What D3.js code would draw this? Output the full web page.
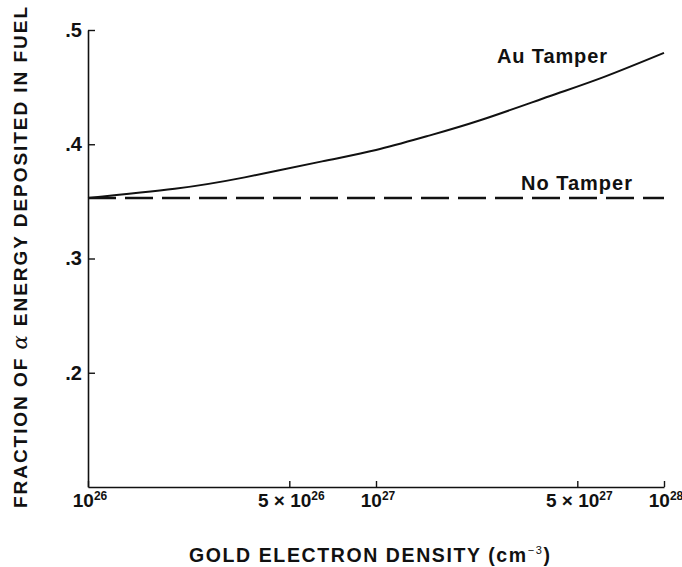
<!DOCTYPE html>
<html>
<head>
<meta charset="utf-8">
<script src="https://cdn.jsdelivr.net/npm/d3@7"></script>
<style>
  body { margin: 0; background: #fff; }
  text { font-family: "Liberation Sans", Arial, sans-serif; font-weight: bold; fill: #111; }
</style>
</head>
<body>
<svg id="chart"></svg>
<script>
// Chart data
const density = [1e26, 2e26, 3.5e26, 6.5e26, 1e27, 1.5e27, 2.3e27, 4e27, 6.2e27, 1e28];
const auTamper = [0.353, 0.361, 0.371, 0.385, 0.395, 0.407, 0.421, 0.442, 0.459, 0.480];
const noTamperDensity = [1e26, 1e28];
const noTamper = [0.353, 0.353];

const yTicks = [0.2, 0.3, 0.4, 0.5];
const yTickLabels = ['.2', '.3', '.4', '.5'];
const xTicks = [1e26, 5e26, 1e27, 5e27, 1e28];
const xTickLabels = [['', '10', '26'], ['5 \u00d7\u00a0', '10', '26'], ['', '10', '27'], ['5 \u00d7\u00a0', '10', '27'], ['', '10', '28']];

// Dimensions
const W = 682, H = 567;
const margin = {top: 30, right: 18, bottom: 80, left: 88};

const svg = d3.select('#chart')
  .attr('width', W)
  .attr('height', H);

// Scales
const x = d3.scaleLog()
  .domain([1e26, 1e28])
  .range([margin.left, W - margin.right]);
const y = d3.scaleLinear()
  .domain([0.1, 0.5])
  .range([H - margin.bottom, margin.top]);

// X axis (ticks pointing up into the plot)
const xAxis = d3.axisBottom(x)
  .tickValues(xTicks)
  .tickSizeInner(-6)
  .tickSizeOuter(0)
  .tickFormat('');
const gx = svg.append('g')
  .attr('transform', `translate(0, ${y(0.1)})`)
  .call(xAxis);
gx.select('.domain').attr('stroke', '#111').attr('stroke-width', 1.6);
gx.selectAll('.tick line').attr('stroke', '#111').attr('stroke-width', 1.4);

const xl = svg.append('g').selectAll('text')
  .data(xTicks)
  .enter().append('text')
  .attr('x', (d) => x(d) + 2)
  .attr('y', y(0.1) + 20)
  .attr('text-anchor', 'middle')
  .attr('font-size', 19);
xl.append('tspan').text((d, i) => xTickLabels[i][0]);
xl.append('tspan').text((d, i) => xTickLabels[i][1]);
xl.append('tspan').text((d, i) => xTickLabels[i][2])
  .attr('font-size', 12).attr('dy', -7);

// Y axis (ticks pointing right)
const yAxis = d3.axisLeft(y)
  .tickValues(yTicks)
  .tickSizeInner(-7)
  .tickSizeOuter(0)
  .tickFormat((d, i) => yTickLabels[i]);
const gy = svg.append('g')
  .attr('transform', `translate(${margin.left}, 0)`)
  .call(yAxis);
gy.select('.domain').attr('stroke', '#111').attr('stroke-width', 1.6);
gy.selectAll('.tick line').attr('stroke', '#111').attr('stroke-width', 1.4);
gy.selectAll('.tick text')
  .attr('x', -6)
  .attr('font-size', 20)
  .attr('font-family', '"Liberation Sans", Arial, sans-serif')
  .attr('font-weight', 'bold')
  .attr('fill', '#111');

// Lines
const line = d3.line()
  .x((d) => x(d[0]))
  .y((d) => y(d[1]))
  .curve(d3.curveNatural);

svg.append('path')
  .datum(density.map((d, i) => [d, auTamper[i]]))
  .attr('fill', 'none')
  .attr('stroke', '#111')
  .attr('stroke-width', 2)
  .attr('d', line);

svg.append('path')
  .datum(noTamperDensity.map((d, i) => [d, noTamper[i]]))
  .attr('fill', 'none')
  .attr('stroke', '#111')
  .attr('stroke-width', 2.4)
  .attr('stroke-dasharray', '28,9')
  .attr('d', line.curve(d3.curveLinear));

// Curve labels
svg.append('text')
  .attr('x', 497).attr('y', 63)
  .attr('font-size', 20)
  .attr('textLength', 110)
  .attr('lengthAdjust', 'spacing')
  .text('Au Tamper');
svg.append('text')
  .attr('x', 521).attr('y', 190)
  .attr('font-size', 20)
  .attr('textLength', 111)
  .attr('lengthAdjust', 'spacing')
  .text('No Tamper');

// Axis titles
const xt = svg.append('text')
  .attr('x', 189)
  .attr('y', 562)
  .attr('font-size', 19.5)
  .attr('textLength', 361)
  .attr('lengthAdjust', 'spacing');
xt.append('tspan').text('GOLD ELECTRON DENSITY (cm');
xt.append('tspan').text('\u22123').attr('font-size', 11).attr('dy', -8).attr('font-weight', 'normal');
xt.append('tspan').text(')').attr('dy', 8);

const yt = svg.append('text')
  .attr('transform', `translate(27, 508) rotate(-90)`)
  .attr('font-size', 19)
  .attr('textLength', 501)
  .attr('lengthAdjust', 'spacing');
yt.append('tspan').text('FRACTION OF ');
yt.append('tspan').text('\u03b1')
  .attr('font-family', '"DejaVu Serif", serif')
  .attr('font-style', 'italic')
  .attr('font-weight', 'normal')
  .attr('font-size', 21);
yt.append('tspan').text(' ENERGY DEPOSITED IN FUEL');
</script>
</body>
</html>
